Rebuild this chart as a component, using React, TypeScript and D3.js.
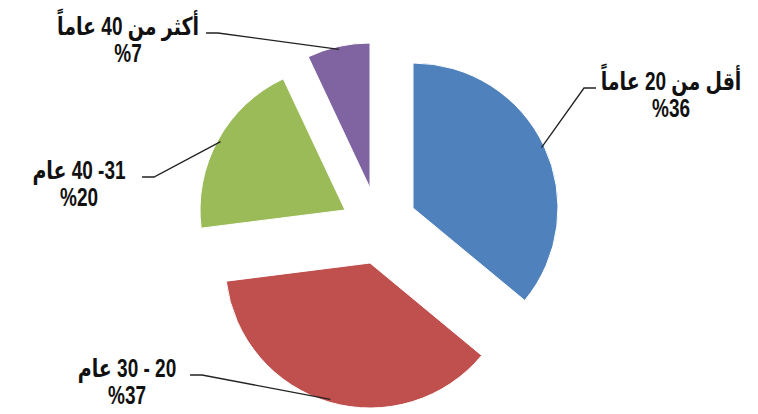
import { arc, pie, type PieArcDatum } from "d3";

const categories = ["أقل من 20 عاماً", "20 - 30 عام", "31- 40 عام", "أكثر من 40 عاماً"];
const values = [36, 37, 20, 7];
const percentLabels = ["%36", "%37", "%20", "%7"];
const colors = ["#4F81BD", "#C0504D", "#9BBB59", "#8064A2"];

// slices are pulled out of the pie by these amounts (px)
const EXPLODE = [
  { dx: 33, dy: -21 },
  { dx: -10, dy: 34 },
  { dx: -35, dy: -19 },
  { dx: -10, dy: -41 },
];
const CENTER = { x: 380, y: 229 };
const RADIUS = 145;
const FONT_SIZE = 25;
const SCALE_X = 0.76;

// label block: text centre x, first baseline, where the leader meets the text
const LABEL_LAYOUT = [
  { cx: 671, y: 90, lineX: 596, dir: 1 },
  { cx: 127, y: 377, lineX: 190, dir: -1 },
  { cx: 79, y: 179, lineX: 142, dir: -1 },
  { cx: 128, y: 35, lineX: 206, dir: -1 },
];

type Datum = { name: string; value: number; pct: string; color: string };

export default function App() {
  const data: Datum[] = categories.map((name, i) => ({
    name,
    value: values[i],
    pct: percentLabels[i],
    color: colors[i],
  }));

  const slices = pie<Datum>()
    .sort(null)
    .value((d) => d.value)
    .startAngle(0)
    .endAngle(Math.PI * 2)(data);

  const sliceArc = arc<PieArcDatum<Datum>>().innerRadius(0).outerRadius(RADIUS);

  return (
    <svg
      width={758}
      height={414}
      style={{ position: "absolute", left: 0, top: 0, background: "#fff" }}
    >
      {slices.map((s, i) => (
        <path
          key={s.data.name}
          d={sliceArc(s) ?? ""}
          transform={`translate(${CENTER.x + EXPLODE[i].dx},${CENTER.y + EXPLODE[i].dy})`}
          fill={s.data.color}
          stroke="#fff"
          strokeWidth={1}
        />
      ))}
      {slices.map((s, i) => {
        const mid = (s.startAngle + s.endAngle) / 2;
        const r = RADIUS - 3;
        const ax = CENTER.x + EXPLODE[i].dx + Math.sin(mid) * r;
        const ay = CENTER.y + EXPLODE[i].dy - Math.cos(mid) * r;
        const lay = LABEL_LAYOUT[i];
        const lineY = lay.y - 2;
        const elbowX = lay.lineX - lay.dir * 12;
        return (
          <g key={`lbl-${s.data.name}`}>
            <polyline
              points={`${ax},${ay} ${elbowX},${lineY} ${lay.lineX},${lineY}`}
              fill="none"
              stroke="#222"
              strokeWidth={1.3}
            />
            <g
              transform={`translate(${lay.cx},0) scale(${SCALE_X},1)`}
              fontFamily="'Liberation Sans', 'DejaVu Sans', Arial, sans-serif"
              fontWeight="bold"
              fontSize={FONT_SIZE}
              fill="#111"
              textAnchor="middle"
            >
              <text x={0} y={lay.y} direction="rtl" style={{ unicodeBidi: "embed" }}>
                {s.data.name}
              </text>
              <text x={0} y={lay.y + 27}>
                {s.data.pct}
              </text>
            </g>
          </g>
        );
      })}
    </svg>
  );
}
